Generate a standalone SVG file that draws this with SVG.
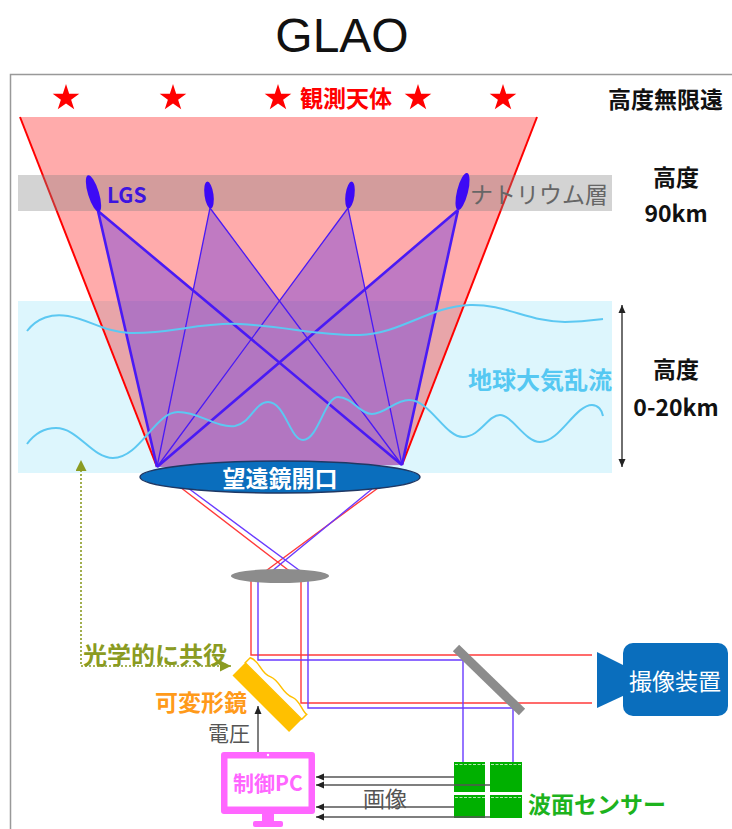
<svg xmlns="http://www.w3.org/2000/svg" width="732" height="829" viewBox="0 0 732 829">
  <defs>
    <style>
      .jp { font-family: "Noto Sans CJK JP", "Noto Sans", sans-serif; }
      .b { font-weight: 700; }
      .mid { text-anchor: middle; }
      .c { dominant-baseline: central; }
      .beam-thick { stroke: #4A1AF5; stroke-width: 2.6; fill: none; }
      .beam-thin { stroke: #4A1AF5; stroke-width: 1.3; fill: none; }
      .ray-r { stroke: #FF3B3B; stroke-width: 1.4; fill: none; }
      .ray-b { stroke: #6A3BFF; stroke-width: 1.4; fill: none; }
      .wave { stroke: #5CC8F2; stroke-width: 2; fill: none; }
      .sig { stroke: #555; stroke-width: 1.5; fill: none; }
    </style>
    <path id="star" d="M0,-14 L3.17,-4.36 L13.31,-4.33 L5.13,1.67 L8.23,11.33 L0,5.39 L-8.23,11.33 L-5.13,1.67 L-13.31,-4.33 L-3.17,-4.36 Z" fill="#FF0000"/>
    <marker id="ah" viewBox="0 0 8 8" refX="8" refY="4" markerWidth="8" markerHeight="8" markerUnits="userSpaceOnUse" orient="auto-start-reverse">
      <path d="M0,0.5 L8,4 L0,7.5 Z" fill="#222"/>
    </marker>
    <marker id="ah-olive" viewBox="0 0 10 10" refX="10" refY="5" markerWidth="11" markerHeight="11" markerUnits="userSpaceOnUse" orient="auto-start-reverse">
      <path d="M0,0 L10,5 L0,10 Z" fill="#8A9B22"/>
    </marker>
  </defs>

  <rect width="732" height="829" fill="#FFFFFF"/>

  <!-- title -->
  <text x="342" y="52" font-family="Liberation Sans, Arial, sans-serif" font-size="48" text-anchor="middle" fill="#111">GLAO</text>

  <!-- outer frame -->
  <rect x="10.5" y="74.5" width="740" height="800" fill="none" stroke="#999" stroke-width="1.5"/>

  <!-- sky: turbulence layer, light cone, sodium layer -->
  <g id="atmosphere">
    <rect x="18" y="301" width="594" height="172" fill="#DDF6FD"/>
  </g>
  <g id="science-cone">
    <polygon points="20,117 537,117 402,465 157,467" fill="#FF0000" fill-opacity="0.33"/>
    <line x1="20" y1="117" x2="157" y2="467" stroke="#FF0000" stroke-width="2"/>
    <line x1="537" y1="117" x2="402" y2="465" stroke="#FF0000" stroke-width="2"/>
  </g>
  <g id="sodium-layer">
    <rect x="18" y="175" width="594" height="36" fill="#808080" fill-opacity="0.35"/>
    <text class="jp c" x="470" y="193" font-size="23" fill="#666">ナトリウム層</text>
  </g>

  <!-- laser guide star beams -->
  <g id="lgs-beams">
    <g opacity="0.4" fill="#6432E6">
      <polygon points="98,211 157,467 402,465"/>
      <polygon points="210,208 157,467 402,465"/>
      <polygon points="348,208 157,467 402,465"/>
      <polygon points="458,210 157,467 402,465"/>
    </g>
    <path class="beam-thick" d="M98,211 L157,467 M98,211 L402,465 M458,210 L157,467 M458,210 L402,465"/>
    <path class="beam-thin" d="M210,208 L157,467 M210,208 L402,465 M348,208 L157,467 M348,208 L402,465"/>
  </g>
  <g id="lgs" fill="#3D0AF5">
    <ellipse cx="93.5" cy="193.5" rx="5.5" ry="19" transform="rotate(-17 93.5 193.5)"/>
    <ellipse cx="209" cy="195" rx="4.5" ry="13.5" transform="rotate(-8 209 195)"/>
    <ellipse cx="350" cy="195" rx="4.5" ry="13.5" transform="rotate(8 350 195)"/>
    <ellipse cx="462.5" cy="191.5" rx="5.5" ry="19" transform="rotate(14 462.5 191.5)"/>
    <text class="jp b c" x="107" y="194" font-size="21" fill="#3D14E0">LGS</text>
  </g>

  <!-- turbulence waves -->
  <g id="turbulence">
    <path class="wave" d="M27,331 C37,318 52,313 68,316 C90,320 105,332 130,333 C170,334 200,322 240,324 C290,327 320,336 360,335 C400,334 430,306 470,305 C505,304 530,322 565,322 C585,322 595,320 603,319"/>
    <path class="wave" d="M27,444 C35,433 45,428 56,428 C78,428 92,458 113,458 C140,458 155,412 178,412 C200,412 215,428 235,426 C250,424 255,402 268,402 C285,402 290,440 303,440 C318,440 325,397 338,397 C352,397 360,414 372,414 C385,414 395,400 409,400 C430,400 445,437 463,437 C480,437 488,415 500,415 C512,415 525,442 540,442 C560,442 575,405 592,405 C598,405 602,410 603,416"/>
    <text class="jp b c" x="468" y="378" font-size="24" fill="#55C8F2">地球大気乱流</text>
  </g>

  <!-- stars -->
  <g id="stars">
    <use href="#star" x="66" y="98"/>
    <use href="#star" x="173" y="98"/>
    <use href="#star" x="278" y="98"/>
    <use href="#star" x="418" y="98"/>
    <use href="#star" x="503" y="98"/>
    <text class="jp b c" x="300" y="97" font-size="23" fill="#FF0000">観測天体</text>
  </g>

  <!-- altitude labels -->
  <g id="altitudes" class="jp b" fill="#111">
    <text class="c" x="608" y="98" font-size="23">高度無限遠</text>
    <text class="mid c" x="676" y="176" font-size="23">高度</text>
    <text class="mid c" x="676" y="212" font-size="23">90km</text>
    <text class="mid c" x="676" y="368" font-size="23">高度</text>
    <text class="mid c" x="676" y="406" font-size="23">0-20km</text>
  </g>
  <line x1="622" y1="305" x2="622" y2="467" stroke="#222" stroke-width="1.3" marker-start="url(#ah)" marker-end="url(#ah)"/>

  <!-- relay optics rays -->
  <g id="rays">
    <path class="ray-r" d="M180,487 L296,576 M378,488 L259,576"/>
    <path class="ray-b" d="M188,488 L307,576 M372,489 L266,576"/>
    <path class="ray-r" d="M251,576 L251,655 L592,655 M301,576 L301,703 L592,703"/>
    <path class="ray-b" d="M258,576 L258,660 L463,660 L463,762 M308,576 L308,708 L513,708 L513,762"/>
  </g>

  <!-- telescope aperture -->
  <g id="aperture">
    <ellipse cx="280" cy="477" rx="140" ry="16" fill="#0A6EBD" stroke="#1F3864" stroke-width="1.5"/>
    <text class="jp b mid c" x="280" y="477" font-size="23" fill="#FFFFFF">望遠鏡開口</text>
  </g>

  <!-- relay lens -->
  <g id="relay-lens">
    <ellipse cx="280" cy="576" rx="49" ry="7" fill="#8C8C8C"/>
  </g>

  <!-- beam splitter -->
  <g id="beam-splitter">
    <line x1="456" y1="648" x2="522" y2="712" stroke="#8C8C8C" stroke-width="9"/>
  </g>

  <!-- science camera -->
  <g id="camera">
    <polygon points="597,652 625,666 625,695 597,708" fill="#0A6EBD"/>
    <rect x="623" y="643" width="105" height="73" rx="10" fill="#0A6EBD"/>
    <text class="jp mid c" x="675" y="680" font-size="23" fill="#FFFFFF">撮像装置</text>
  </g>

  <!-- deformable mirror -->
  <g id="deformable-mirror">
    <g transform="translate(273.5 691) rotate(45)">
      <rect x="-40" y="0" width="80" height="18" fill="#FFC000"/>
      <path d="M-40,0 L-40,-7 C-30,-12 -22,-3 -12,-8 C-2,-12 8,-4 18,-9 C26,-12 34,-6 40,-7 L40,0 Z" fill="#FFFFFF" stroke="#FFC000" stroke-width="1.5"/>
    </g>
    <text class="jp b c" x="155" y="701" font-size="23" fill="#FF9A1A">可変形鏡</text>
  </g>

  <!-- wavefront sensor -->
  <g id="wfs">
    <rect x="454" y="762" width="31" height="30" fill="#00B000"/>
    <rect x="490" y="762" width="32" height="30" fill="#00B000"/>
    <rect x="454" y="795" width="31" height="23" fill="#00B000"/>
    <rect x="490" y="795" width="32" height="23" fill="#00B000"/>
    <path d="M455,764.5 H521 M455,797.5 H521" stroke="#FFFFFF" stroke-width="1" stroke-dasharray="3,1.5" opacity="0.7"/>
    <text class="jp b c" x="528" y="803" font-size="23" fill="#1DB31D">波面センサー</text>
  </g>

  <!-- control PC -->
  <g id="control-pc">
    <rect x="221" y="752" width="94" height="62" rx="3" fill="#FF66FF"/>
    <rect x="227.5" y="758.5" width="81" height="48" fill="#FFFFFF"/>
    <circle cx="268" cy="755" r="1.2" fill="#FFFFFF"/>
    <rect x="262" y="813" width="12" height="9" fill="#FF66FF"/>
    <rect x="253" y="821" width="30" height="6" rx="2" fill="#FF66FF"/>
    <text class="jp b mid c" x="268" y="782" font-size="21" fill="#FF66FF">制御PC</text>
  </g>

  <!-- connectors -->
  <g id="connectors">
    <line class="sig" x1="454" y1="777" x2="316" y2="777" marker-end="url(#ah)"/>
    <line class="sig" x1="490" y1="785" x2="316" y2="785" marker-end="url(#ah)"/>
    <line class="sig" x1="454" y1="807" x2="316" y2="807" marker-end="url(#ah)"/>
    <line class="sig" x1="490" y1="817" x2="316" y2="817" marker-end="url(#ah)"/>
    <text class="jp mid c" x="385" y="797" font-size="22" fill="#555">画像</text>
    <line class="sig" x1="258" y1="752" x2="258" y2="706" stroke="#222" marker-end="url(#ah)"/>
    <text class="jp mid c" x="229" y="732" font-size="21" fill="#555">電圧</text>
    <path d="M231,666 L81,666 L81,460" fill="none" stroke="#8A9B22" stroke-width="1.6" stroke-dasharray="2,2" marker-start="url(#ah-olive)" marker-end="url(#ah-olive)"/>
    <text class="jp b c" x="83" y="653" font-size="24" fill="#8A9B22">光学的に共役</text>
  </g>
</svg>
